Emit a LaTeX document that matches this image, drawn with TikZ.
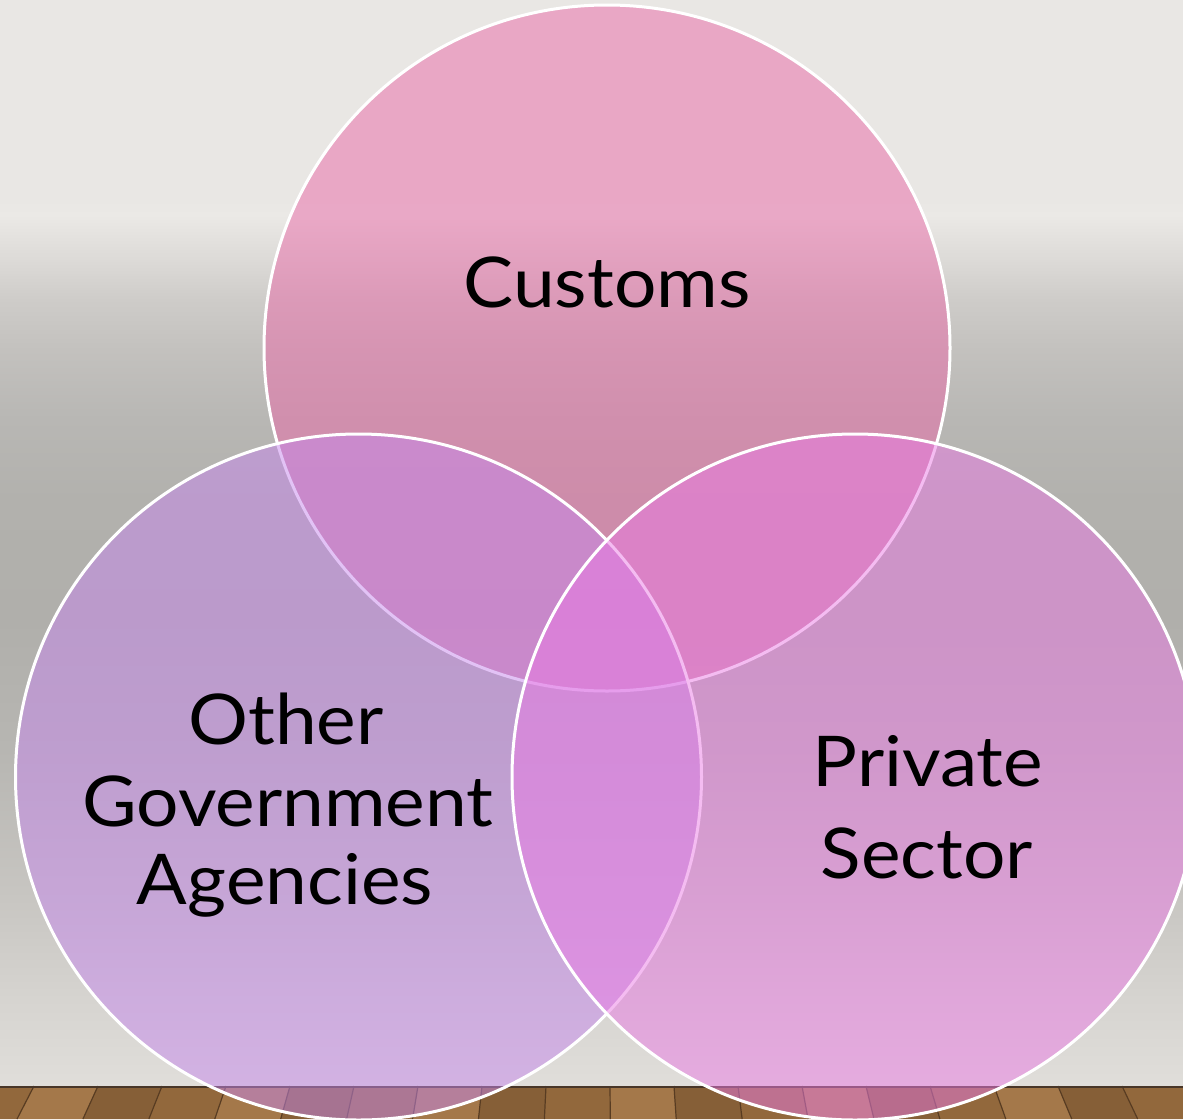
\documentclass[tikz,border=0pt]{standalone}
\usepackage{fontspec}
\setmainfont{Lato}
\newfontfamily\lblfont[FakeStretch=1.07]{Lato}
\definecolor{wA}{RGB}{224,222,218}
\definecolor{wB}{RGB}{214,212,208}
\definecolor{wC}{RGB}{200,198,194}
\definecolor{wD}{RGB}{183,182,178}
\definecolor{wE}{RGB}{176,175,171}
\definecolor{wF}{RGB}{178,177,173}
\definecolor{wG}{RGB}{184,183,180}
\definecolor{wH}{RGB}{195,193,190}
\definecolor{wI}{RGB}{206,204,201}
\definecolor{wJ}{RGB}{220,218,215}
\definecolor{wK}{RGB}{235,233,230}
\definecolor{wL}{RGB}{233,231,228}
\definecolor{plank0}{RGB}{146,104,60}
\definecolor{plank1}{RGB}{164,120,74}
\definecolor{plank2}{RGB}{134,95,55}
\definecolor{seam}{RGB}{88,60,34}
\definecolor{floorline}{RGB}{72,54,40}
\definecolor{topc}{RGB}{233,105,168}
\definecolor{leftc}{RGB}{198,135,236}
\definecolor{rightc}{RGB}{234,122,228}
\pgfdeclareverticalshading{wall}{100bp}{color(0bp)=(wA); color(25bp)=(wA); color(29bp)=(wB); color(33.6bp)=(wC); color(40.5bp)=(wD); color(46.5bp)=(wE); color(52bp)=(wF); color(55.7bp)=(wG); color(58.9bp)=(wH); color(61.2bp)=(wI); color(63bp)=(wJ); color(65.1bp)=(wK); color(65.8bp)=(wL); color(75bp)=(wL); color(100bp)=(wL)}
\tikzset{
  venn/.style={line width=3pt, draw=white, fill opacity=0.5, draw opacity=1},
  lbl/.style={font=\lblfont\fontsize{70}{80}\selectfont, inner sep=0pt, anchor=base, text=black}
}
\begin{document}
\begin{tikzpicture}[x=1pt,y=-1pt]
\useasboundingbox (0,0) rectangle (1183,1119);
\clip (0,0) rectangle (1183,1119);
% wall
\shade[shading=wall] (0,0) rectangle (1183,1086);
% floor
\fill[plank0] (0,1086) rectangle (1183,1119);
\foreach \i in {0,...,20}{
  \pgfmathsetmacro\xa{-30+64*\i}
  \pgfmathsetmacro\xb{\xa+64}
  \pgfmathsetmacro\xc{\xb+0.03*(\xb-600)}
  \pgfmathsetmacro\xd{\xa+0.03*(\xa-600)}
  \pgfmathtruncatemacro\m{mod(\i,3)}
  \fill[plank\m] (\xa,1086) -- (\xb,1086) -- (\xc,1119) -- (\xd,1119) -- cycle;
  \draw[seam, line width=1.2pt] (\xa,1086) -- (\xd,1119);
}
\draw[floorline, line width=2.5pt] (0,1087) -- (1183,1087);
% circles
\path[venn, fill=topc] (607,348) circle[radius=343];
\path[venn, fill=leftc] (358.5,777) circle[radius=343];
\path[venn, fill=rightc] (855,777) circle[radius=343];
% labels
\node[lbl] (customs) at (607,307) {Customs};
\node[lbl] (other1) at (286,744) {Other};
\node[lbl] (other2) at (288,826) {Government};
\node[lbl] (other3) at (285,904) {Agencies};
\node[lbl] (priv1) at (928,786) {Private};
\node[lbl] (priv2) at (927,878) {Sector};
\end{tikzpicture}
\end{document}
